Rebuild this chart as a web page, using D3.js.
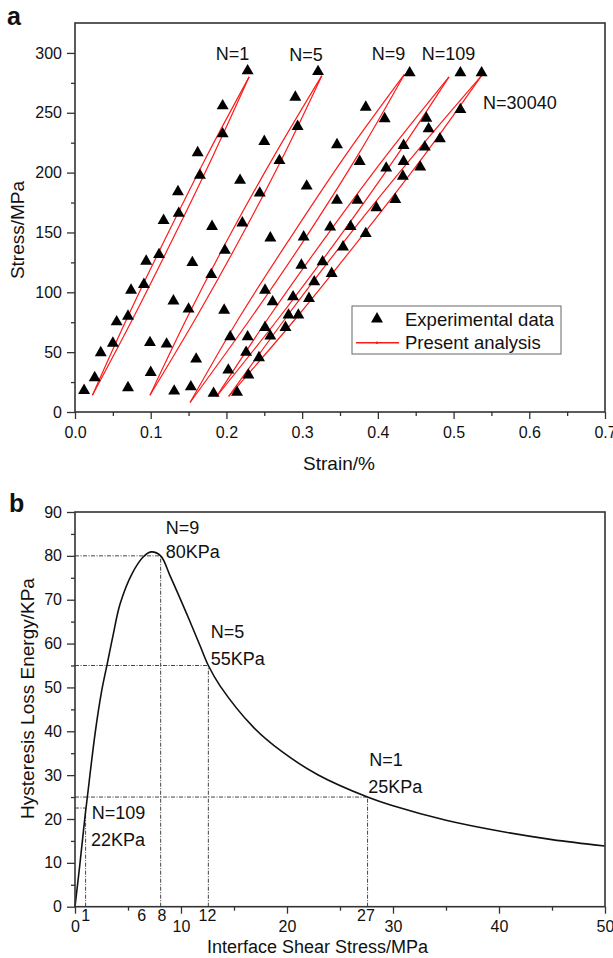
<!DOCTYPE html>
<html>
<head>
<meta charset="utf-8">
<script src="https://cdn.jsdelivr.net/npm/d3@7"></script>
<style>
  body { margin: 0; background: #fff; }
  svg text { font-family: "Liberation Sans", Arial, sans-serif; fill: #111; }
</style>
</head>
<body>
<svg id="chart" width="613" height="958"></svg>
<script>
// ---- panel a data: stress-strain loops ----
var expStrain = [0.012,0.026,0.034,0.050,0.055,0.070,0.074,0.091,0.094,0.111,0.117,0.137,0.136,0.165,0.162,0.195,0.195,0.228,
  0.070,0.099,0.100,0.121,0.130,0.131,0.150,0.153,0.155,0.160,0.181,0.180,0.183,0.198,0.197,0.221,0.218,0.244,0.270,0.250,0.294,0.291,0.321,
  0.214,0.2025,0.205,0.228,0.226,0.229,0.243,0.251,0.251,0.258,0.261,0.258,0.278,0.282,0.288,0.295,0.299,0.302,0.316,0.309,
  0.327,0.339,0.354,0.337,0.364,0.384,0.346,0.373,0.398,0.423,0.306,0.346,0.376,0.384,0.409,0.411,0.434,0.434,0.433,0.442,
  0.464,0.467,0.462,0.456,0.482,0.509,0.509,0.537];
var expStress = [18,28.6,49.5,57.5,75.3,80,101.7,106.5,126,131.5,160,166,184,197.7,216.6,232.4,255.8,285,
  20.3,58,33,56.7,92.8,17.5,86,21,124.8,44.2,155,114.8,15.6,135,85,157.9,193.5,182.9,210,226,238.5,263,284.4,
  16.4,35,62.8,62.8,49.8,30.9,45.3,101.7,70.6,63.4,92,145.4,70.6,81,96.2,81,122.6,146.2,108.7,94.8,
  125.4,115.7,137.9,154.5,155,149,176.8,176.8,170.7,177.6,188.7,223.3,209.3,254.6,245,203.8,222.7,209.3,197,283.3,
  245.4,236.6,221.3,204.6,228.2,252.7,283.3,283.3];

var loopNames = ["N=1", "N=5", "N=9", "N=109", "N=30040"];
// loading and unloading branches, [strain, stress]
var loopLoad = [
  [[0.023,14],[0.078,80],[0.131,147],[0.183,215],[0.230,280]],
  [[0.099,14],[0.161,80],[0.220,147],[0.276,215],[0.326,281]],
  [[0.152,8],[0.234,80],[0.306,147],[0.374,215],[0.435,282]],
  [[0.187,13],[0.271,80],[0.350,147],[0.426,215],[0.494,280]],
  [[0.203,13],[0.294,80],[0.379,147],[0.462,215],[0.537,281]]
];
var loopUnload = [
  [[0.023,14],[0.070,80],[0.121,147],[0.175,215],[0.230,280]],
  [[0.099,14],[0.149,80],[0.204,147],[0.264,215],[0.326,281]],
  [[0.152,8],[0.218,80],[0.286,147],[0.358,215],[0.435,282]],
  [[0.187,13],[0.257,80],[0.332,147],[0.412,215],[0.494,280]],
  [[0.203,13],[0.280,80],[0.361,147],[0.448,215],[0.537,281]]
];
var loopLabelStrain = [0.186, 0.283, 0.392, 0.458, 0.539];
var loopLabelStress = [294, 293, 294, 294, 253];

// ---- panel b data: hysteresis loss energy ----
var shearStress = [0,0.47,0.94,1.16,1.9,2.5,3.05,3.6,4.25,5.35,6.45,7.17,8.08,8.96,10.5,11.8,12.58,13.7,16.8,19.5,22.9,27.6,30,35,40,45,50];
var lossEnergy  = [0,9.9,20.5,24.9,39.6,49.0,55.5,62,69,75.8,79.8,80.9,80,75.5,67,59.5,55,50.3,41,35.4,30.1,25,23,19.7,17.25,15.3,13.85];

var markShear  = [1, 8.08, 12.58, 27.6];
var markEnergy = [22.5, 80, 55, 25];
var extraTickVals = [1, 6.3, 8.2, 12.5, 27.45];
var extraTickText = ["1", "6", "8", "12", "27"];
var noteText  = ["N=9", "80KPa", "N=5", "55KPa", "N=1", "25KPa", "N=109", "22KPa"];
var noteShear = [8.56, 8.56, 12.8, 12.8, 27.76, 27.67, 1.57, 1.51];
var noteEnergy = [85.0, 79.6, 61.2, 55.0, 32.0, 25.9, 19.9, 13.9];

var svg = d3.select("#chart");
var axisColor = "#333";

function frame(g, w, h) {
  g.append("rect").attr("width", w).attr("height", h)
    .attr("fill", "none").attr("stroke", axisColor).attr("stroke-width", 1.6);
}
function styleAxis(sel) {
  sel.select(".domain").remove();
  sel.selectAll("line").attr("stroke", axisColor).attr("stroke-width", 1.3);
  sel.selectAll("text").style("font-size", "16px").attr("fill", "#111");
}

// ================= panel a =================
var ma = {left: 75, top: 23}, wa = 530, ha = 389;
var ga = svg.append("g").attr("transform", "translate(" + ma.left + "," + ma.top + ")");
var xa = d3.scaleLinear().domain([0, 0.7]).range([0, wa]);
var ya = d3.scaleLinear().domain([0, 325]).range([ha, 0]);

ga.append("g").attr("transform", "translate(0," + ha + ")")
  .call(d3.axisBottom(xa).tickValues(d3.range(0.05, 0.7, 0.1)).tickSize(4).tickFormat(""))
  .call(styleAxis);
ga.append("g").attr("transform", "translate(0," + ha + ")")
  .call(d3.axisBottom(xa).tickValues(d3.range(0, 0.71, 0.1)).tickSize(7).tickPadding(8).tickFormat(d3.format(".1f")))
  .call(styleAxis);
ga.append("g")
  .call(d3.axisLeft(ya).tickValues([25, 75, 125, 175, 225, 275]).tickSize(4).tickFormat(""))
  .call(styleAxis);
ga.append("g")
  .call(d3.axisLeft(ya).tickValues(d3.range(0, 301, 50)).tickSize(8).tickPadding(5))
  .call(styleAxis);
frame(ga, wa, ha);

var lineA = d3.line().x(function (d) { return xa(d[0]); }).y(function (d) { return ya(d[1]); })
  .curve(d3.curveCatmullRom);
loopNames.forEach(function (n, i) {
  [loopLoad[i], loopUnload[i]].forEach(function (br) {
    ga.append("path").datum(br).attr("d", lineA)
      .attr("fill", "none").attr("stroke", "#ff1a1a").attr("stroke-width", 1.2);
  });
  ga.append("text").attr("x", xa(loopLabelStrain[i])).attr("y", ya(loopLabelStress[i]))
    .style("font-size", "18px").text(n);
});

var tri = d3.symbol().type(d3.symbolTriangle).size(62);
ga.append("g").selectAll("path").data(expStrain).enter().append("path")
  .attr("d", tri)
  .attr("transform", function (d, i) { return "translate(" + xa(d) + "," + ya(expStress[i]) + ")"; })
  .attr("fill", "#000");

// legend
var lg = svg.append("g").attr("transform", "translate(352,306)");
lg.append("rect").attr("width", 209).attr("height", 48)
  .attr("fill", "#fff").attr("stroke", "#666").attr("stroke-width", 1);
lg.append("path").attr("d", tri).attr("transform", "translate(25,13)").attr("fill", "#000");
lg.append("text").attr("x", 53).attr("y", 19.5).style("font-size", "18.5px").text("Experimental data");
lg.append("line").attr("x1", 4).attr("x2", 47).attr("y1", 36.7).attr("y2", 36.7)
  .attr("stroke", "#ff1a1a").attr("stroke-width", 1.4);
lg.append("circle").attr("cx", 25).attr("cy", 36.7).attr("r", 1.3).attr("fill", "#ff1a1a");
lg.append("text").attr("x", 53).attr("y", 42.5).style("font-size", "18.5px").text("Present analysis");

svg.append("text").attr("x", 339).attr("y", 470).attr("text-anchor", "middle")
  .style("font-size", "19px").text("Strain/%");
svg.append("text").attr("transform", "translate(24,230) rotate(-90)").attr("text-anchor", "middle")
  .style("font-size", "19px").text("Stress/MPa");
svg.append("text").attr("x", 7).attr("y", 25).style("font-size", "25px").style("font-weight", "bold").text("a");

// ================= panel b =================
var mb = {left: 75, top: 512}, wb = 530, hb = 394.7;
var gb = svg.append("g").attr("transform", "translate(" + mb.left + "," + mb.top + ")");
var xb = d3.scaleLinear().domain([0, 50]).range([0, wb]);
var yb = d3.scaleLinear().domain([0, 90]).range([hb, 0]);

gb.append("g").attr("transform", "translate(0," + hb + ")")
  .call(d3.axisBottom(xb).tickValues(d3.range(5, 50, 10)).tickSize(4).tickFormat(""))
  .call(styleAxis);
gb.append("g").attr("transform", "translate(0," + hb + ")")
  .call(d3.axisBottom(xb).tickValues(d3.range(0, 51, 10)).tickSize(7).tickPadding(7))
  .call(styleAxis);
gb.append("g")
  .call(d3.axisLeft(yb).tickValues(d3.range(5, 90, 10)).tickSize(4).tickFormat(""))
  .call(styleAxis);
gb.append("g")
  .call(d3.axisLeft(yb).tickValues(d3.range(0, 91, 10)).tickSize(8).tickPadding(5))
  .call(styleAxis);

gb.selectAll(".extra").data(extraTickVals).enter().append("text")
  .attr("x", function (d) { return xb(d); }).attr("y", hb + 14.5)
  .attr("text-anchor", "middle").style("font-size", "16px")
  .text(function (d, i) { return extraTickText[i]; });

// drop lines
var dash = "4,1.5,1,1.5";
markShear.forEach(function (s, i) {
  gb.append("line").attr("x1", 0).attr("x2", xb(s))
    .attr("y1", yb(markEnergy[i])).attr("y2", yb(markEnergy[i]))
    .attr("stroke", "#444").attr("stroke-width", 1).attr("stroke-dasharray", dash);
  gb.append("line").attr("x1", xb(s)).attr("x2", xb(s))
    .attr("y1", hb).attr("y2", yb(markEnergy[i]))
    .attr("stroke", "#444").attr("stroke-width", 1).attr("stroke-dasharray", dash);
});

var lineB = d3.line().x(function (d) { return xb(d); }).y(function (d, i) { return yb(lossEnergy[i]); })
  .curve(d3.curveCatmullRom.alpha(0.5));
gb.append("path").datum(shearStress).attr("d", lineB)
  .attr("fill", "none").attr("stroke", "#111").attr("stroke-width", 1.6);

frame(gb, wb, hb);

gb.selectAll(".note").data(noteText).enter().append("text")
  .attr("x", function (d, i) { return xb(noteShear[i]); })
  .attr("y", function (d, i) { return yb(noteEnergy[i]); })
  .style("font-size", "18px").text(function (d) { return d; });

svg.append("text").attr("x", 317.5).attr("y", 953).attr("text-anchor", "middle")
  .style("font-size", "18px").text("Interface Shear Stress/MPa");
svg.append("text").attr("transform", "translate(33.5,698.5) rotate(-90)").attr("text-anchor", "middle")
  .style("font-size", "19px").text("Hysteresis Loss Energy/KPa");
svg.append("text").attr("x", 9).attr("y", 512).style("font-size", "25px").style("font-weight", "bold").text("b");
</script>
</body>
</html>
